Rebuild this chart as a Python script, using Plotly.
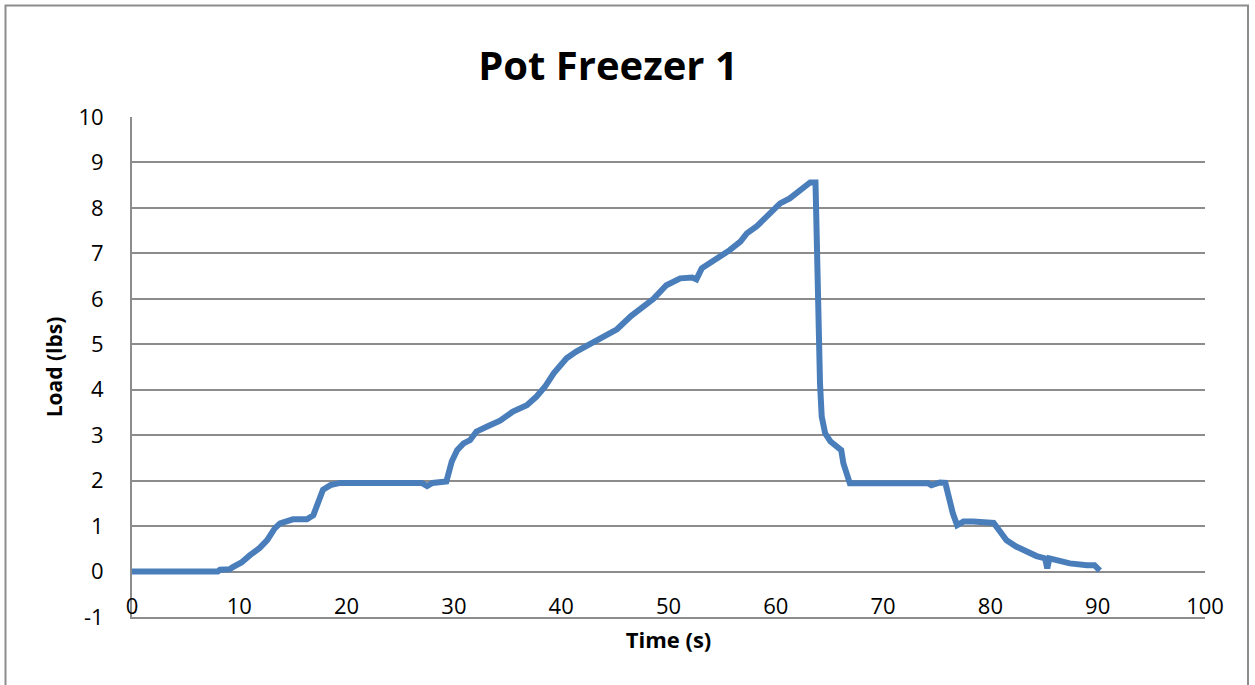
import plotly.graph_objects as go

time_s = [0, 2, 4, 6, 8.0, 8.2, 9.1, 9.4, 10.2, 11.0, 11.9, 12.6, 13.3, 13.8, 14.5, 15.0, 15.7, 16.3, 16.9,
          17.05, 17.4, 17.8, 18.5, 19.4, 21.0, 23.0, 25.0, 27.0, 27.5, 28.0, 29.3, 29.8, 30.3, 30.9, 31.5,
          32.1, 33.1, 34.3, 35.5, 36.8, 37.7, 38.5, 39.3, 39.9, 40.5, 41.4, 42.7, 44.2, 45.2, 46.5, 47.5,
          48.6, 49.8, 51.1, 52.2, 52.6, 53.1, 54.8, 55.7, 56.7, 57.3, 58.2, 58.8, 59.6, 60.4, 61.3, 61.9,
          62.7, 63.2, 63.7, 63.75, 63.96, 64.12, 64.28, 64.6, 65.1, 65.5, 66.1, 66.3, 66.6, 66.9, 70.0,
          74.2, 74.5, 75.3, 75.8, 76.1, 76.5, 76.9, 77.5, 78.4, 79.9, 80.3, 80.9, 81.5, 82.4, 83.4, 84.3,
          85.1, 85.3, 85.5, 86.5, 87.4, 89.0, 89.7, 90.2]
load_lbs = [0, 0, 0, 0, 0.0, 0.04, 0.05, 0.1, 0.2, 0.36, 0.52, 0.69, 0.95, 1.06, 1.13, 1.15, 1.15, 1.15, 1.24,
            1.35, 1.6, 1.8, 1.9, 1.95, 1.95, 1.96, 1.95, 1.95, 1.88, 1.95, 1.98, 2.42, 2.67, 2.82, 2.89,
            3.08, 3.19, 3.32, 3.52, 3.66, 3.85, 4.07, 4.36, 4.54, 4.69, 4.84, 5.02, 5.2, 5.33, 5.62, 5.8,
            6.0, 6.3, 6.45, 6.47, 6.43, 6.67, 6.91, 7.07, 7.26, 7.44, 7.59, 7.73, 7.88, 8.10, 8.21, 8.32,
            8.50, 8.56, 8.56, 7.8, 5.6, 4.14, 3.41, 3.04, 2.86, 2.78, 2.67, 2.38, 2.12, 1.94, 1.94,
            1.94, 1.9, 1.96, 1.95, 1.65, 1.28, 1.02, 1.10, 1.1, 1.1, 1.07, 0.88, 0.69, 0.55, 0.44, 0.34,
            0.29, 0.07, 0.29, 0.22, 0.18, 0.14, 0.14, 0.02]

x_ticks = [0, 10, 20, 30, 40, 50, 60, 70, 80, 90, 100]
y_ticks = [-1, 0, 1, 2, 3, 4, 5, 6, 7, 8, 9, 10]
y_tick_text = ["-1", "0", "1", "2", "3", "4", "5", "6", "7", "8", "9", "10"]

FONT = "Open Sans"
GRID = "#8c8c8c"

fig = go.Figure()
fig.add_trace(go.Scatter(x=time_s, y=load_lbs, mode="lines",
                         line=dict(color="#4a7ebb", width=6), showlegend=False))

fig.update_layout(
    width=1255, height=685,
    margin=dict(l=132, r=50, t=117, b=68),
    paper_bgcolor="white", plot_bgcolor="white",
    font=dict(family=FONT, color="black", size=22),
    title=dict(text="<b>Pot Freezer 1</b>", x=608/1255, xanchor="center",
               y=1 - 66/685, yanchor="middle", yref="container", xref="container",
               font=dict(family=FONT, size=40, color="black")),
    xaxis=dict(range=[0, 100], tickvals=x_ticks, showgrid=False, zeroline=False,
               showline=True, linecolor=GRID, linewidth=2, ticks="",
               ticklabelstandoff=-31,
               title=dict(text="<b>Time (s)</b>", font=dict(family=FONT, size=22), standoff=13)),
    yaxis=dict(range=[-1, 10], tickvals=y_ticks, ticktext=y_tick_text,
               showgrid=True, gridcolor=GRID, gridwidth=2,
               zeroline=False, showline=True, linecolor=GRID, linewidth=2, ticks="",
               ticklabelstandoff=22,
               title=dict(text="<b>Load (lbs)</b>", font=dict(family=FONT, size=21), standoff=10)),
    shapes=[dict(type="rect", xref="paper", yref="paper",
                 x0=(5.5 - 132) / 1073, x1=(1248 - 132) / 1073,
                 y0=(617 - 700) / 500, y1=(617 - 5.5) / 500,
                 line=dict(color="#8c8c8c", width=2), layer="below")],
)

fig.write_html("out.html", config={"displayModeBar": False},
               post_script="document.body.style.margin='0';")
